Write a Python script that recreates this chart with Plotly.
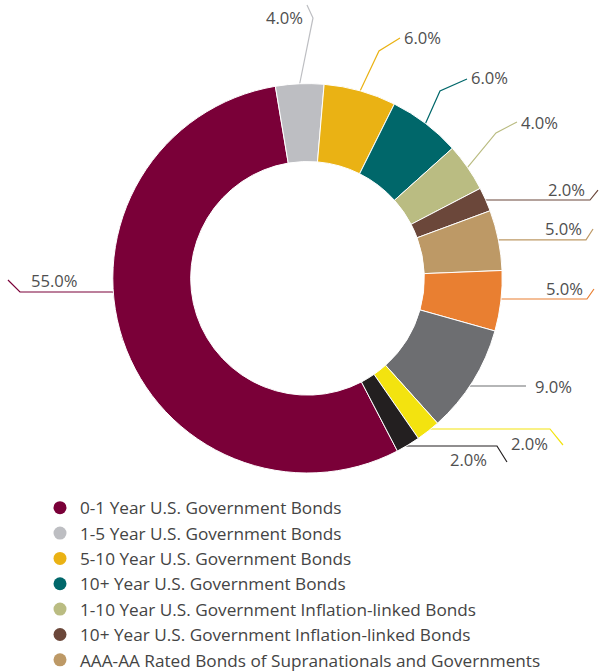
import math
import plotly.graph_objects as go

# ---- data -------------------------------------------------------------
categories = [
    "0-1 Year U.S. Government Bonds",
    "1-5 Year U.S. Government Bonds",
    "5-10 Year U.S. Government Bonds",
    "10+ Year U.S. Government Bonds",
    "1-10 Year U.S. Government Inflation-linked Bonds",
    "10+ Year U.S. Government Inflation-linked Bonds",
    "AAA-AA Rated Bonds of Supranationals and Governments",
    "Investment Grade Corporate Bonds",
    "U.S. Mortgage-backed Securities",
    "High Yield Bonds",
    "Cash",
]
weights = [55.0, 4.0, 6.0, 6.0, 4.0, 2.0, 5.0, 5.0, 9.0, 2.0, 2.0]
value_labels = [f"{v:.1f}%" for v in weights]

# ---- style ------------------------------------------------------------
colors = [
    "#7a0038", "#bdbec2", "#eab214", "#00676a", "#babc82", "#6b473a",
    "#bd9966", "#e97f31", "#6d6e71", "#f3e30f", "#231f20",
]
FONT = "Open Sans"
LABEL_COLOR = "#4f4f4f"
LEGEND_ROWS = 7                   # legend rows that fit in the view

W, H = 600, 700
CX, CY, R = 307.5, 278.3, 194.7   # donut centre / outer radius (px)
HOLE = 0.6
ROTATION = 152.5                  # start angle of the first slice

# Connector routes (px offsets from each slice's outer-edge midpoint)
# and text placement (offset, anchor) for every value label.
CONNECTORS = [
    ([(0, 0), (-9.6, -48.1), (-102.9, -48.1), (-114.9, -60.1)], (-93.5, -59.1), "left"),
    ([(0, 0), (13.3, -65.8), (7.3, -78.8)], (5.3, -65.8), "right"),
    ([(0, 0), (18.8, -39.9), (39.8, -52.9)], (42.3, -52.9), "left"),
    ([(0, 0), (14.5, -32.4), (41.5, -44.4)], (44.0, -46.4), "left"),
    ([(0, 0), (28.4, -34.5), (49.4, -45.5)], (51.9, -44.5), "left"),
    ([(-3, 0.6), (104.5, 0.6), (112.5, -9.4)], (101.0, -10.4), "right"),
    ([(-3, -0.2), (87.6, -0.2), (94.6, -11.2)], (85.1, -11.2), "right"),
    ([(-3, -2), (86.1, -2), (93.1, -12)], (84.6, -13), "right"),
    ([(-4, 4.8), (53.2, 4.8)], (60.7, 5.8), "left"),
    ([(-3, -2.1), (121.8, -2.1), (134.8, 13.9)], (122.3, 12.9), "right"),
    ([(-3, 1), (88.9, 1), (98.9, 17)], (81.4, 14), "right"),
]


def to_paper(px, py):
    return px / W, 1 - py / H


# mid-angle of each slice, clockwise from 12 o'clock
total = sum(weights)
mid_angles = []
acc = ROTATION
for v in weights:
    span = v / total * 360.0
    mid_angles.append(acc + span / 2)
    acc += span

fig = go.Figure()

x0, y0 = to_paper(CX - R, CY + R)
x1, y1 = to_paper(CX + R, CY - R)
fig.add_trace(go.Pie(
    labels=categories,
    values=weights,
    sort=False,
    direction="clockwise",
    rotation=ROTATION,
    hole=HOLE,
    marker=dict(colors=colors, line=dict(color="#ffffff", width=1)),
    textinfo="none",
    hovertemplate="%{label}: %{value:.1f}%<extra></extra>",
    showlegend=False,
    domain=dict(x=[x0, x1], y=[y0, y1]),
))

# round legend markers
for name, col in list(zip(categories, colors))[:LEGEND_ROWS]:
    fig.add_trace(go.Scatter(
        x=[None], y=[None], mode="markers", name=name,
        marker=dict(color=col, size=13, symbol="circle"),
        hoverinfo="skip",
    ))

shapes, annotations = [], []
for ang, col, lbl, (route, (tx, ty), anchor) in zip(mid_angles, colors, value_labels, CONNECTORS):
    a = math.radians(ang)
    ex = CX + R * math.sin(a)
    ey = CY - R * math.cos(a)
    pts = [to_paper(ex + dx, ey + dy) for dx, dy in route]
    path = "M " + " L ".join(f"{px:.5f},{py:.5f}" for px, py in pts)
    shapes.append(dict(type="path", path=path, xref="paper", yref="paper",
                       line=dict(color=col, width=1.2), layer="below"))
    ax, ay = to_paper(ex + tx, ey + ty)
    annotations.append(dict(x=ax, y=ay, xref="paper", yref="paper", text=lbl,
                            showarrow=False, xanchor=anchor, yanchor="middle",
                            font=dict(family=FONT, size=16.6, color=LABEL_COLOR)))

lx, ly = to_paper(40, 490)
fig.update_layout(
    width=W, height=H, autosize=False,
    margin=dict(l=0, r=0, t=0, b=0),
    paper_bgcolor="#ffffff", plot_bgcolor="#ffffff",
    xaxis=dict(visible=False), yaxis=dict(visible=False),
    shapes=shapes, annotations=annotations,
    legend=dict(x=lx, y=ly, xanchor="left", yanchor="top", orientation="v",
                font=dict(family=FONT, size=17.2, color="#444444"),
                bgcolor="rgba(0,0,0,0)", itemclick=False, itemdoubleclick=False),
    showlegend=True,
)

fig.write_html("out.html")
